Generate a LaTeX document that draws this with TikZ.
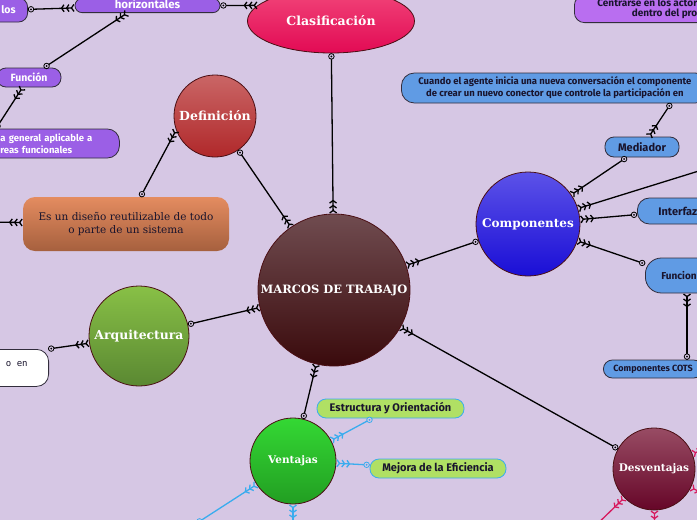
\documentclass[tikz,border=0pt]{standalone}
\usepackage{fontspec}
\newfontfamily\boxfont{Fira Sans}
\newfontfamily\headfont{DejaVu Serif}
\newfontfamily\plainfont{DejaVu Serif}
\newfontfamily\codefont{DejaVu Sans Mono}
\usetikzlibrary{arrows.meta,decorations.markings,shapes.geometric}
\definecolor{bg}{RGB}{214,199,228}
\definecolor{boxpurple}{RGB}{155,95,230}
\definecolor{toppurple}{RGB}{185,110,240}
\definecolor{boxblue}{RGB}{96,155,228}
\definecolor{boxgreen}{RGB}{176,224,100}
\definecolor{skyline}{RGB}{58,172,238}
\definecolor{crimson}{RGB}{214,26,94}
\definecolor{rim}{RGB}{75,15,20}
\definecolor{boxrim}{RGB}{50,45,60}
\definecolor{inkdark}{RGB}{25,20,45}
\definecolor{hubtop}{RGB}{112,76,80}
\definecolor{hubbot}{RGB}{58,10,12}
\definecolor{clastop}{RGB}{242,70,122}
\definecolor{clasbot}{RGB}{226,10,84}
\definecolor{deftop}{RGB}{202,102,102}
\definecolor{defbot}{RGB}{176,40,42}
\definecolor{arqtop}{RGB}{136,192,70}
\definecolor{arqbot}{RGB}{90,136,50}
\definecolor{comptop}{RGB}{92,82,232}
\definecolor{compbot}{RGB}{26,14,214}
\definecolor{ventop}{RGB}{52,216,52}
\definecolor{venbot}{RGB}{34,158,34}
\definecolor{destop}{RGB}{152,76,100}
\definecolor{desbot}{RGB}{102,6,40}
\definecolor{oratop}{RGB}{228,140,96}
\definecolor{orabot}{RGB}{166,96,62}
\begin{document}
\begin{tikzpicture}[x=1pt,y=-1pt,
  topic/.style={circle,draw=rim,line width=0.8pt,text=white,inner sep=0pt,
    font=\headfont\bfseries\fontsize{11.5}{13}\selectfont},
  leaf/.style={rectangle,rounded corners=9pt,draw=boxrim,line width=0.8pt,text=inkdark,inner ysep=0pt,
    font=\boxfont\bfseries\fontsize{11}{13}\selectfont},
  dotmark/.style={circle,draw=#1,fill=bg,line width=0.8pt,minimum size=5.5pt,inner sep=0pt,
    path picture={\fill[#1] (path picture bounding box.center) circle (1pt);}},
  dotmark/.default=black,
  link/.style={draw=#1,line width=1.3pt,
    -{Straight Barb[reversed,length=2.5pt,width=7pt,sep=1pt]Straight Barb[reversed,length=2.5pt,width=7pt,sep=1pt]Straight Barb[reversed,length=2.5pt,width=7pt]},
    decoration={markings,mark=at position 3pt with {\node[dotmark=#1]{};}},
    postaction={decorate}},
  link/.default=black]
\useasboundingbox (0,0) rectangle (697,520);
\fill[bg] (0,0) rectangle (697,520);

\node[topic,minimum size=152pt,top color=hubtop,bottom color=hubbot] (M) at (334,290) {MARCOS DE TRABAJO};
\node[ellipse,draw=rim,line width=0.8pt,minimum width=167pt,minimum height=64pt,inner sep=0pt,text=white,
  top color=clastop,bottom color=clasbot,font=\headfont\bfseries\fontsize{12.5}{14}\selectfont] (C) at (331,21) {Clasificación};
\node[topic,minimum size=82pt,top color=deftop,bottom color=defbot,font=\headfont\bfseries\fontsize{12.5}{14}\selectfont] (D) at (215,116) {Definición};
\node[topic,minimum size=100pt,top color=arqtop,bottom color=arqbot,font=\headfont\bfseries\fontsize{12.4}{14}\selectfont] (A) at (139,336) {Arquitectura};
\node[topic,minimum size=104pt,top color=comptop,bottom color=compbot,font=\headfont\bfseries\fontsize{12}{14}\selectfont] (K) at (528,224) {Componentes};
\node[topic,minimum size=86pt,top color=ventop,bottom color=venbot,font=\headfont\bfseries\fontsize{10.5}{13}\selectfont] (V) at (293,461) {Ventajas};
\node[topic,minimum size=82pt,top color=destop,bottom color=desbot,font=\headfont\bfseries\fontsize{10.5}{13}\selectfont] (Ds) at (654,469) {Desventajas};

\node[rectangle,rounded corners=12pt,minimum width=206pt,minimum height=54pt,align=center,text=inkdark,
  top color=oratop,bottom color=orabot,font=\plainfont\fontsize{10.5}{13.5}\selectfont] (O) at (126,224) {Es un diseño reutilizable de todo\\o parte de un sistema};

\node[leaf,fill=boxpurple,text=white,anchor=south,minimum width=145pt,inner ysep=1.5pt,text height=8.5pt,text depth=2.5pt,
  rounded corners=7pt,font=\boxfont\bfseries\fontsize{11.5}{13}\selectfont] (H) at (147.5,13) {horizontales};
\node[leaf,fill=boxpurple,text=white,anchor=east,inner xsep=12pt,minimum height=24pt,font=\boxfont\bfseries\fontsize{10.5}{13}\selectfont] (L) at (28,10) {los};
\node[leaf,fill=boxpurple,text=white,minimum width=64pt,minimum height=19pt,font=\boxfont\bfseries\fontsize{10.5}{13}\selectfont] (F) at (29,77.5) {Función};
\node[leaf,fill=boxpurple,text=white,anchor=west,inner xsep=24pt,text width=95pt,align=left,minimum height=29pt,
  rounded corners=12pt,font=\boxfont\bfseries\fontsize{9.5}{11.5}\selectfont] (G) at (-24,143.5) {a general aplicable a\\reas funcionales};
\node[leaf,fill=toppurple,anchor=south west,inner xsep=23pt,inner ysep=3.5pt,align=right,rounded corners=10pt,
  font=\boxfont\bfseries\fontsize{10}{10.5}\selectfont] (P) at (574,23) {Centrarse en los actor\\dentro del pro};
\node[leaf,fill=white,anchor=north east,inner xsep=21pt,inner ysep=4pt,text height=13pt,text depth=16pt,
  rounded corners=12pt,font=\codefont\fontsize{9}{11}\selectfont] (W) at (49,349) {o en};

\node[leaf,fill=boxblue,anchor=west,inner xsep=17pt,align=center,minimum height=30pt,rounded corners=13pt,
  font=\boxfont\bfseries\fontsize{9.5}{12}\selectfont] (Cu) at (401,88)
  {Cuando el agente inicia una nueva conversación el componente\\de crear un nuevo conector que controle la participación en};
\node[leaf,fill=boxblue,minimum width=74pt,minimum height=20pt] (Me) at (642,147) {Mediador};
\node[leaf,fill=boxblue,anchor=west,inner xsep=21pt,minimum height=26pt,rounded corners=12pt] (I) at (637,211) {Interfaz};
\node[leaf,fill=boxblue,anchor=west,inner xsep=16pt,minimum height=35pt,rounded corners=16pt,
  font=\boxfont\bfseries\fontsize{10}{12}\selectfont] (Fu) at (645,275.5) {Funcion};
\node[leaf,fill=boxblue,anchor=west,inner xsep=10pt,minimum height=18pt,
  font=\boxfont\bfseries\fontsize{9}{11}\selectfont] (COTS) at (603,369) {Componentes COTS};

\node[leaf,draw=skyline,fill=boxgreen,minimum width=147pt,minimum height=19pt] (E) at (390.5,408.5) {Estructura y Orientación};
\node[leaf,draw=skyline,fill=boxgreen,minimum width=136pt,minimum height=19pt] (Mj) at (438,468.5) {Mejora de la Eficiencia};

\coordinate (offO) at (-12,222);
\coordinate (kx) at (760,152);
\coordinate (vx1) at (197,523);
\coordinate (vx2) at (293,550);
\coordinate (ds1) at (590,531);
\coordinate (ds2) at (655,560);
\coordinate (ds3) at (722,503);
\coordinate (ds4) at (730,439);

\draw[link] (C) -- (M);
\draw[link] (H) -- (C.168);
\draw[link] (L) -- (H);
\draw[link] (F) -- (H.200);
\draw[link] (G.164) -- (F);
\draw[link] (D) -- (M);
\draw[link] (O) -- (D.200);
\draw[link] (offO) -- (O);
\draw[link] (A) -- (M);
\draw[link] (W.31) -- (A);
\draw[link] (K) -- (M);
\draw[link] (Me) -- (K);
\draw[link] ([xshift=270pt]Cu.south west) -- (Me);
\draw[link] (kx) -- (K);
\draw[link] (I) -- (K);
\draw[link] (Fu) -- (K);
\draw[link] ([xshift=84pt]COTS.north west) -- ([xshift=42pt]Fu.south west);
\draw[link] (Ds) -- (M);
\draw[link] (V) -- (M);
\draw[link=skyline] (E) -- (V);
\draw[link=skyline] (Mj) -- (V);
\draw[link=skyline] (vx1) -- (V);
\draw[link=skyline] (vx2) -- (V);
\draw[link=crimson] (ds1) -- (Ds);
\draw[link=crimson] (ds2) -- (Ds);
\draw[link=crimson] (ds3) -- (Ds);
\draw[link=crimson] (ds4) -- (Ds);
\end{tikzpicture}
\end{document}
